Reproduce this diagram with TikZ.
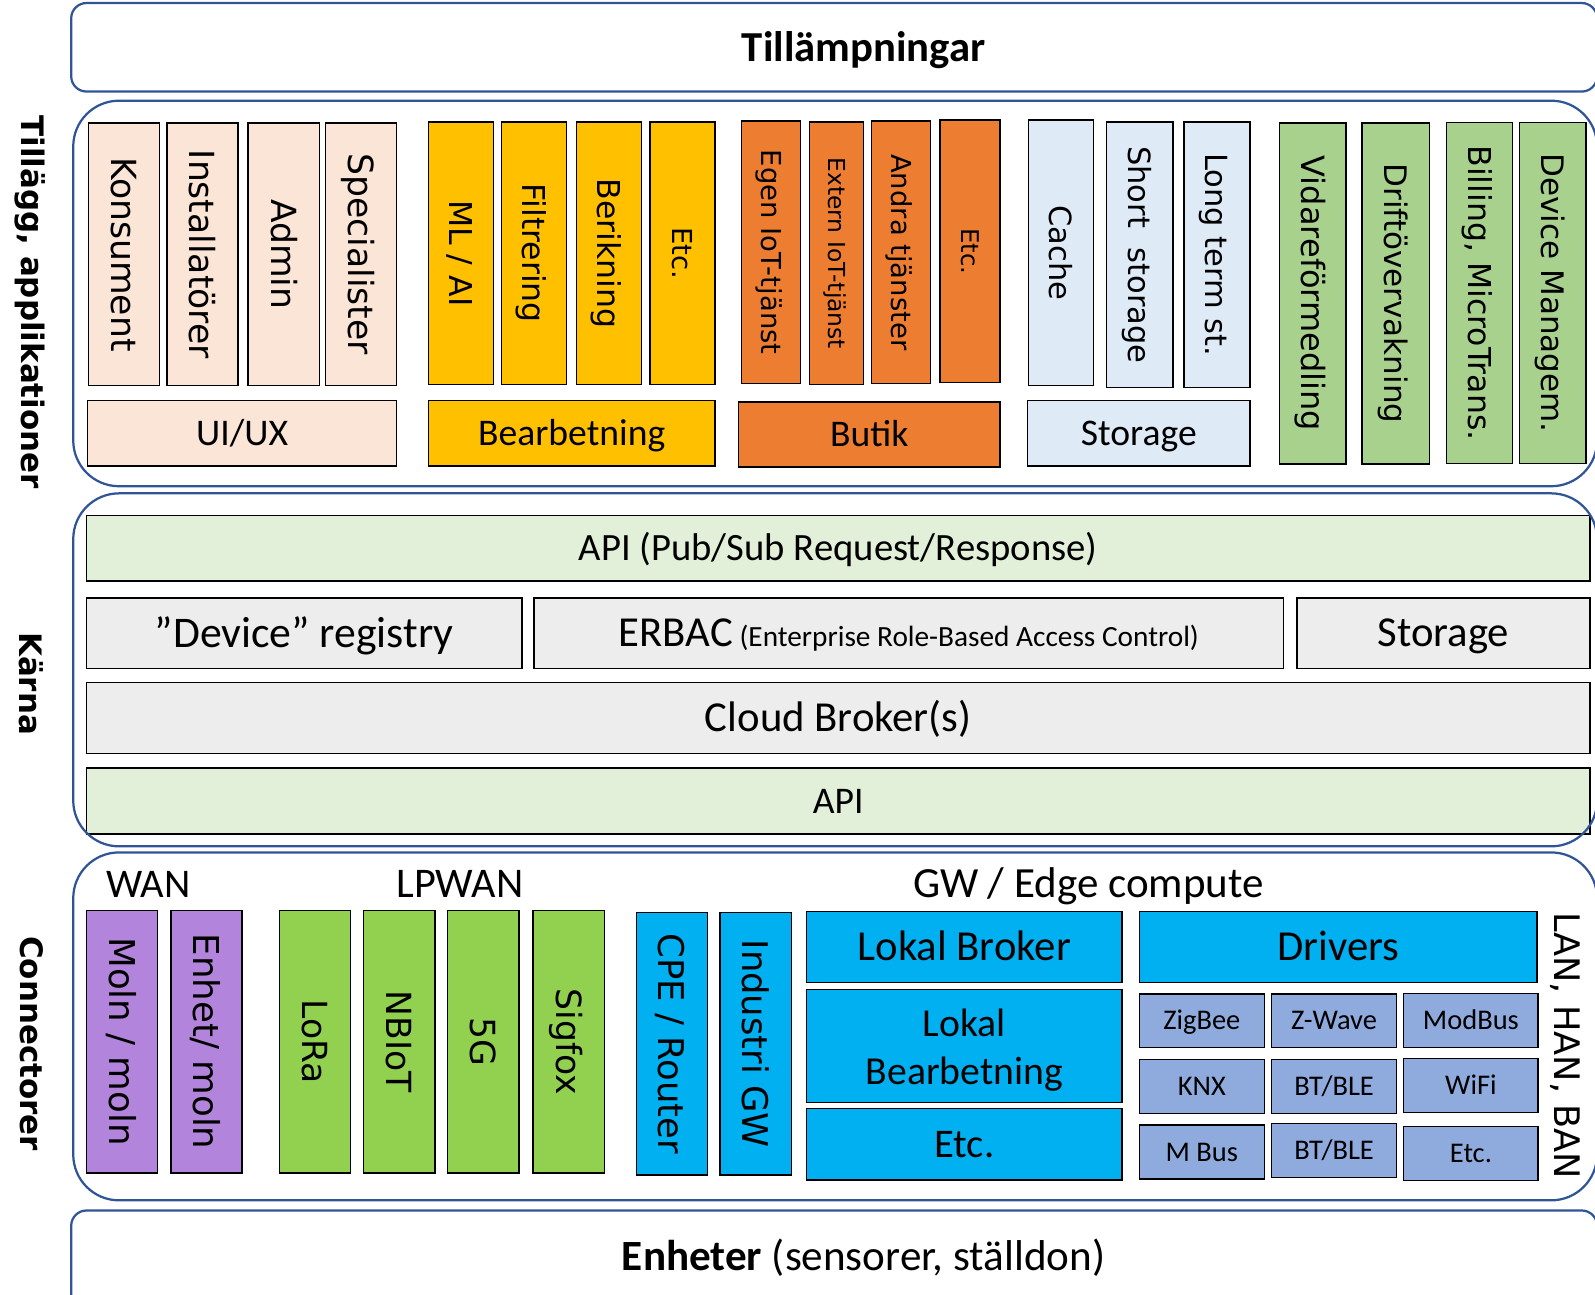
\documentclass[tikz,border=0pt]{standalone}
\usepackage{fontspec}
\setmainfont{Carlito}
\newfontfamily\vertfont{DejaVu Sans}
\usepackage{tikz}

\newcommand\fsz[1]{\fontsize{#1}{#1}\selectfont}

\definecolor{frame}{HTML}{2F5597}
\definecolor{peach}{HTML}{FBE5D6}
\definecolor{gold}{HTML}{FFC000}
\definecolor{rust}{HTML}{ED7D31}
\definecolor{paleblue}{HTML}{DEEBF7}
\definecolor{sage}{HTML}{A9D18E}
\definecolor{mint}{HTML}{E2F0D9}
\definecolor{silver}{HTML}{EDEDED}
\definecolor{lilac}{HTML}{B384DB}
\definecolor{lpgreen}{HTML}{92D050}
\definecolor{sky}{HTML}{00B0F0}
\definecolor{steel}{HTML}{8FAADC}

\tikzset{
  layer/.style={draw=frame, line width=2.2pt},
  box/.style={draw=black, line width=1.4pt, inner sep=0pt, align=center},
  cf/.style={font=\fsz{#1}, text height=0.644*#1pt, text depth=0pt},
  vf/.style={font=\vertfont\fsz{#1}, text height=0.729*#1pt, text depth=0pt},
  vbox/.style={box, rotate=-90, vf=34},
  hbox/.style={box, cf=37},
}

\begin{document}
\begin{tikzpicture}[x=1pt, y=-1pt]
    \useasboundingbox (0,0) rectangle (1568,1273);
    \clip (0,0) rectangle (1568,1273);

    \node[cf=42, font=\bfseries\fsz{42}] (apps) at (849,47) {Tillämpningar};
    \node[font=\vertfont\bfseries\fsz{30.4}, rotate=-90] (addlbl) at (30,297) {Tillägg, applikationer};
    \node[font=\vertfont\bfseries\fsz{30.4}, rotate=-90] (corelbl) at (31,672) {Kärna};
    \node[font=\vertfont\bfseries\fsz{30.4}, rotate=-90] (connlbl) at (31,1026) {Connectorer};

    \foreach \cx/\id/\txt in {122/kons/Konsument, 199/inst/Installatörer, 279/admin/Admin, 355/spec/Specialister} {
      \node[vbox, fill=peach, minimum width=258pt, minimum height=70pt] (\id) at (\cx,250) {\txt};
    }
    \node[hbox, fill=peach, minimum width=304pt, minimum height=64pt] (uiux) at (238,426) {UI/UX};

    \foreach \cx/\id/\txt in {453/mlai/{ML / AI}, 525/filt/Filtrering, 598.5/berik/Berikning} {
      \node[vbox, vf=31, fill=gold, minimum width=258pt, minimum height=64pt] (\id) at (\cx,249) {\txt};
    }
    \node[vbox, vf=27, fill=gold, minimum width=258pt, minimum height=64pt] (etcb) at (671,249) {Etc.};
    \node[hbox, fill=gold, minimum width=282pt, minimum height=64pt] (bearb) at (562,426) {Bearbetning};

    \node[vbox, vf=27, fill=rust, minimum width=258pt, minimum height=58pt] (egen) at (758,248) {Egen IoT-tjänst};
    \node[vbox, vf=23, fill=rust, minimum width=258pt, minimum height=53pt] (extern) at (822.5,249) {Extern IoT-tjänst};
    \node[vbox, vf=27, fill=rust, minimum width=258pt, minimum height=58pt] (andra) at (886,248) {Andra tjänster};
    \node[vbox, vf=24, fill=rust, minimum width=258pt, minimum height=59pt] (etcs) at (953.5,247) {Etc.};
    \node[hbox, fill=rust, minimum width=257pt, minimum height=64pt] (butik) at (854.5,427) {Butik};

    \node[vbox, vf=30, fill=paleblue, minimum width=261pt, minimum height=64pt] (cache) at (1043,248.5) {Cache};
    \node[vbox, vf=30, fill=paleblue, minimum width=261pt, minimum height=65pt] (short) at (1120.5,250.5) {Short\ \ storage};
    \node[vbox, vf=30, fill=paleblue, minimum width=261pt, minimum height=65pt] (long) at (1196.5,250.5) {Long term st.};
    \node[hbox, fill=paleblue, minimum width=219pt, minimum height=64pt] (store) at (1119.5,426) {Storage};

    \node[vbox, vf=31.5, fill=sage, minimum width=335pt, minimum height=65pt] (vidare) at (1290.5,288.5) {Vidareförmedling};
    \node[vbox, vf=30.5, fill=sage, minimum width=335pt, minimum height=66pt] (drift) at (1372,288.5) {Driftövervakning};
    \node[vbox, vf=31, fill=sage, minimum width=335pt, minimum height=65pt] (billing) at (1454.5,288) {Billing, MicroTrans.};
    \node[vbox, vf=30.5, fill=sage, minimum width=335pt, minimum height=65pt] (devman) at (1526.5,288) {Device Managem.};

    \node[hbox, cf=38, fill=mint, minimum width=1478pt, minimum height=64pt] (apitop) at (824,539) {API (Pub/Sub Request/Response)};
    \node[hbox, cf=43, fill=silver, minimum width=428pt, minimum height=69pt] (devreg) at (299,622.5) {”Device” registry};
    \node[hbox, cf=42, fill=silver, minimum width=737pt, minimum height=69pt] (erbac) at (893.5,622.5) {ERBAC{\fsz{28.8} (Enterprise Role-Based Access Control)}};
    \node[hbox, cf=42, fill=silver, minimum width=288pt, minimum height=69pt] (corestore) at (1419,622.5) {Storage};
    \node[hbox, cf=42, fill=silver, minimum width=1478pt, minimum height=70pt] (broker) at (824,706) {Cloud Broker(s)};
    \node[hbox, fill=mint, minimum width=1478pt, minimum height=65pt] (apibot) at (824,787.5) {API};

    \node[font=\fsz{40}, anchor=base] (wan) at (146,882) {WAN};
    \node[font=\fsz{41.5}, anchor=base] (lpwan) at (452,882) {LPWAN};
    \node[font=\fsz{42.3}, anchor=base] (edge) at (1070,882) {GW / Edge compute};

    \foreach \cx/\id/\txt in {120/moln/{Moln / moln}, 203/enhet/{Enhet/ moln}} {
      \node[vbox, vf=35, fill=lilac, minimum width=258pt, minimum height=70pt] (\id) at (\cx,1024) {\txt};
    }
    \foreach \cx/\id/\txt in {309.5/lora/LoRa, 392.5/nbiot/NBIoT, 475/fiveg/5G, 559/sigfox/Sigfox} {
      \node[vbox, fill=lpgreen, minimum width=258pt, minimum height=70pt] (\id) at (\cx,1024) {\txt};
    }
    \foreach \cx/\id/\txt in {660.5/cpe/{CPE / Router}, 743/indgw/Industri GW} {
      \node[vbox, vf=34.8, fill=sky, minimum width=258pt, minimum height=70pt] (\id) at (\cx,1026) {\txt};
    }

    \node[hbox, cf=42, fill=sky, minimum width=310pt, minimum height=70pt] (lbroker) at (948,931) {Lokal Broker};
    \node[box, font=\fontsize{39}{47}\selectfont, fill=sky, minimum width=310pt, minimum height=111pt] (lbearb) at (948,1028.5) {\rule{0pt}{35pt}Lokal\\Bearbetning};
    \node[hbox, cf=40, fill=sky, minimum width=310pt, minimum height=70pt] (etcgw) at (948,1125) {Etc.};
    \node[hbox, cf=42, fill=sky, minimum width=391pt, minimum height=70pt] (drivers) at (1315.5,931) {Drivers};

    \foreach \cx/\cy/\w/\id/\txt in {1181.5/1003.5/123/zigbee/ZigBee, 1311.5/1003.5/123/zwave/Z-Wave, 1446/1003/132/modbus/ModBus,
                                      1181.5/1068/123/knx/KNX, 1311.5/1068/123/btone/{BT/BLE}, 1446/1067/132/wifi/WiFi,
                                      1181.5/1132.5/123/mbus/M Bus, 1311.5/1131/123/bttwo/{BT/BLE}, 1446/1134/132/etcdrv/Etc.} {
      \node[hbox, cf=28, fill=steel, minimum width=\w pt, minimum height=53pt] (\id) at (\cx,\cy) {\txt};
    }
    \node[vf=34.6, rotate=-90] (lanlbl) at (1541,1028) {LAN, HAN, BAN};

    \node[cf=42.4] (devs) at (849,1235) {{\bfseries Enheter} (sensorer, ställdon)};

    \draw[layer, rounded corners=15pt] (70,3) rectangle (1570,90);
    \draw[layer, rounded corners=45pt] (72,99) rectangle (1570,478);
    \draw[layer, rounded corners=45pt] (72,485) rectangle (1570,832);
    \draw[layer, rounded corners=45pt] (72,838) rectangle (1570,1180);
    \draw[layer, rounded corners=15pt] (70,1190) rectangle (1570,1300);
\end{tikzpicture}
\end{document}
